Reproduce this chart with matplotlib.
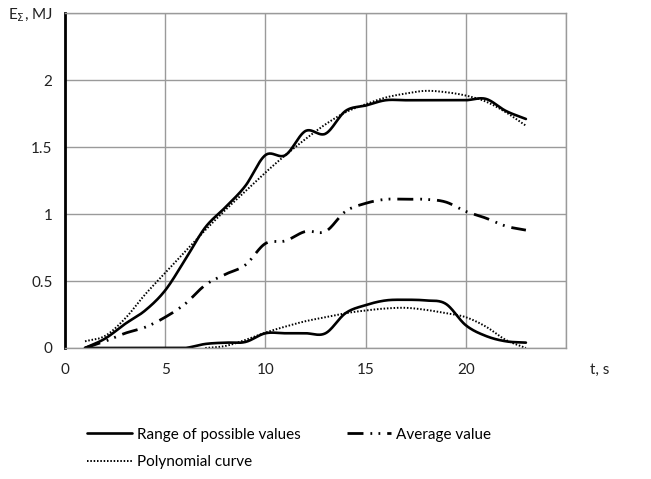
import numpy as np
import matplotlib
matplotlib.use("Agg")
import matplotlib.pyplot as plt
from matplotlib.lines import Line2D

plt.rcParams['font.family'] = ['Lato', 'DejaVu Sans']
plt.rcParams['lines.scale_dashes'] = False

t = list(range(1, 24))
upper = [0.0, 0.07, 0.18, 0.28, 0.43, 0.66, 0.90, 1.05, 1.21, 1.44, 1.44, 1.62, 1.60,
         1.77, 1.81, 1.85, 1.85, 1.85, 1.85, 1.85, 1.86, 1.77, 1.71]
lower = [0.0, 0.0, 0.0, 0.0, 0.0, 0.0, 0.03, 0.04, 0.045, 0.11, 0.11, 0.11, 0.11,
         0.26, 0.32, 0.355, 0.36, 0.355, 0.33, 0.17, 0.09, 0.05, 0.04]
average = [0.0, 0.05, 0.11, 0.155, 0.23, 0.33, 0.47, 0.55, 0.62, 0.78, 0.80, 0.87, 0.87,
           1.02, 1.08, 1.11, 1.11, 1.11, 1.09, 1.02, 0.97, 0.91, 0.88]
poly_upper = [0.05, 0.09, 0.22, 0.40, 0.56, 0.72, 0.88, 1.03, 1.17, 1.31, 1.44, 1.56, 1.67,
              1.76, 1.82, 1.87, 1.90, 1.92, 1.91, 1.885, 1.84, 1.76, 1.66]
t_poly_lower = list(range(7, 24))
poly_lower = [0.0, 0.015, 0.06, 0.115, 0.16, 0.20, 0.23, 0.26, 0.28, 0.295, 0.30, 0.285,
              0.26, 0.23, 0.16, 0.06, 0.0]

xticks = [0, 5, 10, 15, 20, 25]
xticklabels = ['0', '5', '10', '15', '20', '']
yticks = [0, 0.5, 1, 1.5, 2, 2.5]
yticklabels = ['0', '0.5', '1', '1.5', '2', r'E$_{\Sigma}$, MJ']
x_title = 't, s'

legend_labels = ['Range of possible values', 'Average value', 'Polynomial curve']


def smooth(x, y, n=24):
    x = np.asarray(x, float)
    y = np.asarray(y, float)
    px = np.concatenate([[2 * x[0] - x[1]], x, [2 * x[-1] - x[-2]]])
    py = np.concatenate([[2 * y[0] - y[1]], y, [2 * y[-1] - y[-2]]])
    xs, ys = [], []
    for i in range(1, len(px) - 2):
        s = np.linspace(0, 1, n, endpoint=False)
        for arr, out in ((px, xs), (py, ys)):
            p0, p1, p2, p3 = arr[i - 1], arr[i], arr[i + 1], arr[i + 2]
            out.extend(0.5 * ((2 * p1) + (-p0 + p2) * s +
                              (2 * p0 - 5 * p1 + 4 * p2 - p3) * s ** 2 +
                              (-p0 + 3 * p1 - 3 * p2 + p3) * s ** 3))
    xs.append(x[-1])
    ys.append(y[-1])
    return np.array(xs), np.array(ys)


fig = plt.figure(figsize=(6.51, 4.79), dpi=100)
ax = fig.add_axes([0.0998, 0.2735, 0.7696, 0.699])

grid_c = '#9a9a9a'
solid_kw = dict(color='black', lw=1.9, solid_capstyle='round')
dashdot = (0, (11.5, 5, 1.3, 4.5, 1.3, 5))
avg_kw = dict(color='black', lw=2.0, linestyle=dashdot, dash_capstyle='butt')
dot_kw = dict(color='black', lw=1.4, linestyle=(0, (1.1, 1.3)), dash_capstyle='butt')

xs, ys = smooth(t, upper)
ax.plot(xs, ys, **solid_kw)
xs, ys = smooth(t, lower)
ax.plot(xs, np.clip(ys, 0, None), **solid_kw)
xs, ys = smooth(t, average)
ax.plot(xs, ys, **avg_kw)
xs, ys = smooth(t, poly_upper)
ax.plot(xs, ys, **dot_kw)
xs, ys = smooth(t_poly_lower, poly_lower)
ax.plot(xs, np.clip(ys, 0, None), **dot_kw)

ax.set_xlim(0, 25)
ax.set_ylim(0, 2.5)
ax.set_xticks(xticks)
ax.set_xticklabels(xticklabels)
ax.set_yticks(yticks)
ax.set_yticklabels(yticklabels)
ax.tick_params(length=0, labelsize=11, colors='#222222')
ax.tick_params(axis='x', pad=11)
ax.tick_params(axis='y', pad=9)
ax.grid(True, color=grid_c, lw=1.0)
ax.set_axisbelow(True)
for s in ['top', 'right', 'bottom']:
    ax.spines[s].set_color(grid_c)
    ax.spines[s].set_linewidth(1.0)
ax.spines['left'].set_color('black')
ax.spines['left'].set_linewidth(2.0)

fig.text(600 / 651, 1 - 370 / 479, x_title, ha='center', va='center',
         fontsize=11, color='#222222')

handles = [Line2D([], [], **solid_kw), Line2D([], [], **dot_kw), Line2D([], [], **avg_kw)]
labels = [legend_labels[0], legend_labels[2], legend_labels[1]]
fig.legend(handles, labels, ncol=2, frameon=False, loc='upper left',
           bbox_to_anchor=(0.125, 0.12), fontsize=11,
           handlelength=2.9, handletextpad=0.35, columnspacing=3.0,
           labelspacing=0.9, borderaxespad=0)

fig.savefig('out.png', dpi=100)
